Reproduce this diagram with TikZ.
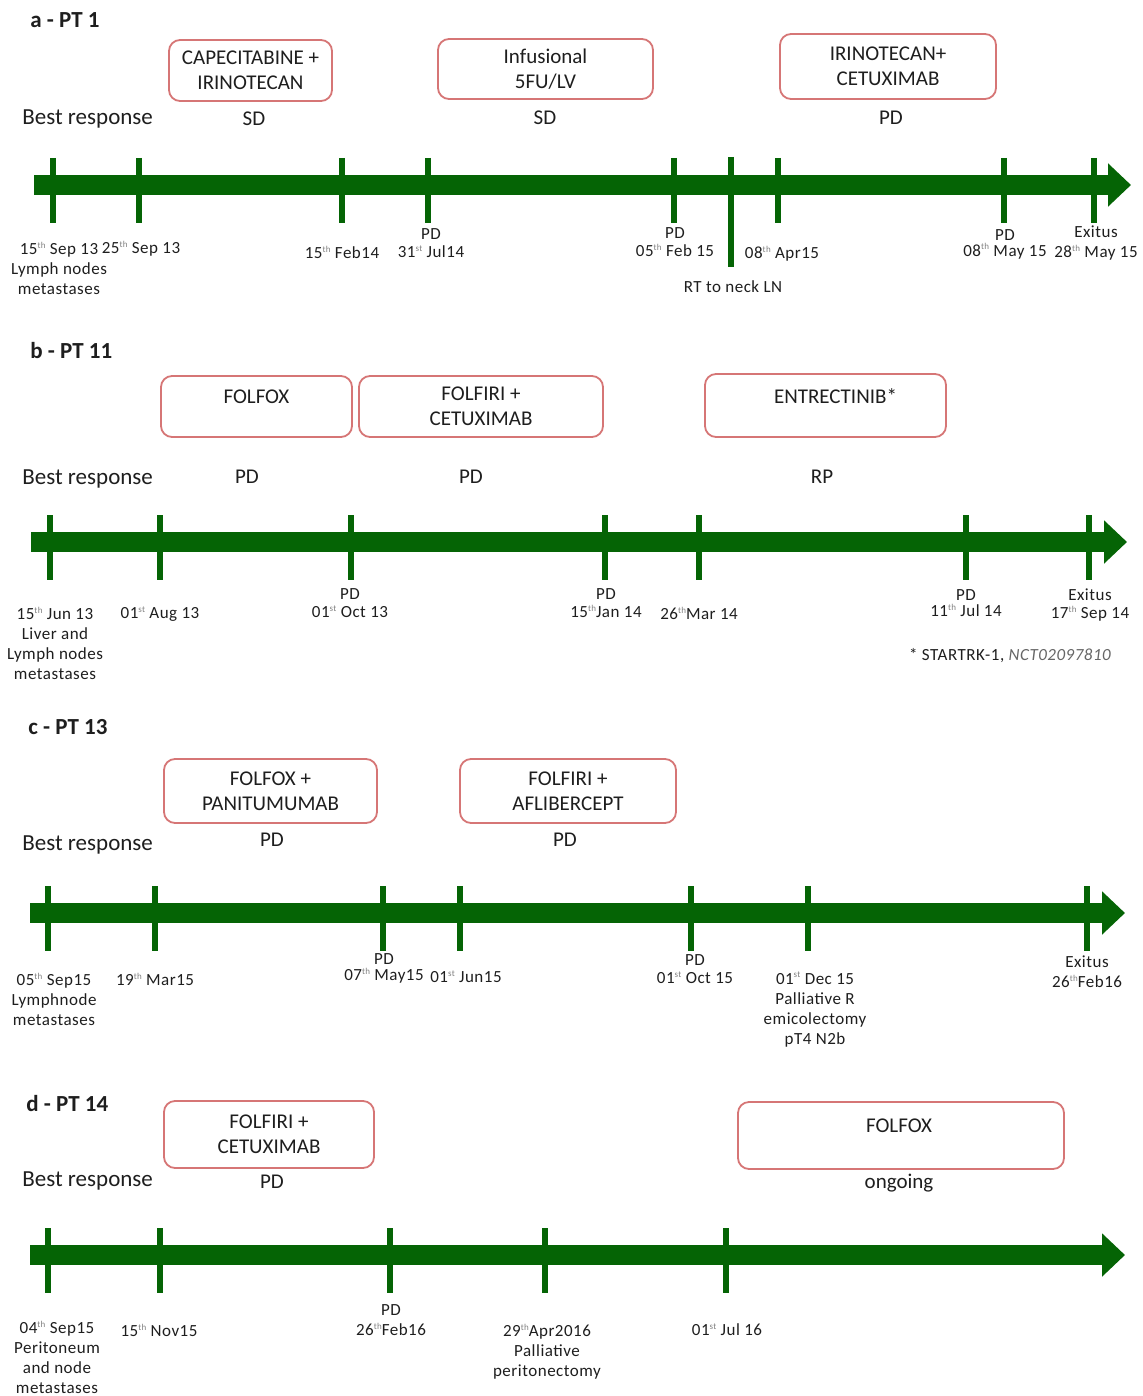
\documentclass[tikz,border=0pt]{standalone}
\usepackage{fontspec}
\usepackage{xcolor}
\setmainfont{Carlito}
\newfontfamily\lblfont[LetterSpace=3]{Carlito}
\usetikzlibrary{arrows.meta}

\definecolor{bargreen}{RGB}{5,100,5}
\definecolor{boxred}{RGB}{214,118,118}
\definecolor{txtdark}{RGB}{30,30,30}
\newcommand{\sups}[1]{\raisebox{0.75ex}{\fontsize{4.5}{5}\selectfont\color{gray}#1}}

\begin{document}
\begin{tikzpicture}[
  x=0.5pt, y=-0.5pt,
  box/.style={draw=boxred, line width=0.9pt, rounded corners=5.5pt,
              inner sep=0pt, align=center, text=txtdark,
              font=\fontsize{10.5}{12.5}\selectfont},
  boxtxt/.style={text=txtdark, font=\fontsize{10.5}{12.5}\selectfont},
  resp/.style={text=txtdark, font=\fontsize{10.5}{12.5}\selectfont},
  title/.style={anchor=west, inner sep=0pt, text=txtdark, font=\bfseries\fontsize{11.5}{13}\selectfont},
  best/.style={anchor=west, inner sep=0pt, text=txtdark, font=\fontsize{11.5}{13}\selectfont},
  lbl/.style={align=center, inner sep=0pt, text=txtdark,
              font=\lblfont\fontsize{8.5}{10}\selectfont},
  bar/.style={draw=bargreen, line width=10pt,
              -{Triangle[length=11.5pt, width=21pt]}},
  tick/.style={draw=bargreen, line width=3.2pt},
]
  \useasboundingbox (0,0) rectangle (1142,1396);

  % ---------------- a - PT 1
  \node[title] (ta) at (30,20) {a - PT 1};
  \node[box, minimum width=81.5pt, minimum height=30.5pt] (a1) at (250.5,70.5) {CAPECITABINE +\\IRINOTECAN};
  \node[box, minimum width=107.5pt, minimum height=30pt]  (a2) at (545.5,69)   {Infusional\\5FU/LV};
  \node[box, minimum width=108pt, minimum height=32.5pt]  (a3) at (888,66.5)   {IRINOTECAN+\\CETUXIMAB};
  \node[best] (ba) at (22,119) {Best response};
  \node[resp] (ra1) at (254,119) {SD};
  \node[resp] (ra2) at (545,118) {SD};
  \node[resp] (ra3) at (891,118) {PD};

  \draw[bar] (34,185) -- (1131,185);
  \foreach \x in {53,139,342,428,674,778,1004,1094}
    \draw[tick] (\x,158) -- (\x,223);
  \draw[tick] (731,157) -- (731,267);

  \node[lbl] (la1) at (59,268)   {15\sups{th} Sep 13\\Lymph nodes\\metastases};
  \node[lbl] (la2) at (141,249)  {25\sups{th} Sep 13};
  \node[lbl] (la3) at (342,252)  {15\sups{th} Feb14};
  \node[lbl] (la4) at (431,243)  {PD\\[-1pt]31\sups{st} Jul14};
  \node[lbl] (la5) at (675,242)  {PD\\[-1pt]05\sups{th} Feb 15};
  \node[lbl] (la6) at (782,254)  {08\sups{th} Apr15};
  \node[lbl] (la7) at (733,287)  {RT to neck LN};
  \node[lbl] (la8) at (1005,244) {PD\\[-2pt]08\sups{th} May 15};
  \node[lbl] (la9) at (1096,243.5) {Exitus\\[0pt]28\sups{th} May 15};

  % ---------------- b - PT 11
  \node[title] (tb) at (30,351) {b - PT 11};
  \node[box, minimum width=95.5pt, minimum height=30.5pt,
        label={[boxtxt, yshift=4.75pt]center:FOLFOX}] (b1) at (256.5,406.5) {};
  \node[box, minimum width=122pt, minimum height=30.5pt] (b2) at (481,406.5) {FOLFIRI +\\CETUXIMAB};
  \node[box, minimum width=120.5pt, minimum height=31.5pt,
        label={[boxtxt, yshift=4.75pt, xshift=5pt]center:ENTRECTINIB*}] (b3) at (825.5,405.5) {};
  \node[best] (bb) at (22,479) {Best response};
  \node[resp] (rb1) at (247,477) {PD};
  \node[resp] (rb2) at (471,477) {PD};
  \node[resp] (rb3) at (822,477) {RP};

  \draw[bar] (31,542) -- (1127,542);
  \foreach \x in {50,160,351,605,699,966,1089}
    \draw[tick] (\x,515) -- (\x,580);

  \node[lbl] (lb1) at (55,643.5)  {15\sups{th} Jun 13\\Liver and\\Lymph nodes\\metastases};
  \node[lbl] (lb2) at (160,614)   {01\sups{st} Aug 13};
  \node[lbl] (lb3) at (350,603.5) {PD\\[-1pt]01\sups{st} Oct 13};
  \node[lbl] (lb4) at (606,603.5) {PD\\[-1pt]15\sups{th}Jan 14};
  \node[lbl] (lb5) at (699,613)   {26\sups{th}Mar 14};
  \node[lbl] (lb6) at (966,603.5) {PD\\[-2pt]11\sups{th} Jul 14};
  \node[lbl] (lb7) at (1090,605.5) {Exitus\\[-1pt]17\sups{th} Sep 14};
  \node[lbl] (nb)  at (1010,656)  {* STARTRK-1, {\itshape\color{gray!80!black}NCT02097810}};

  % ---------------- c - PT 13
  \node[title] (tc) at (28,727) {c - PT 13};
  \node[box, minimum width=106.5pt, minimum height=32pt] (c1) at (270.5,791) {FOLFOX +\\PANITUMUMAB};
  \node[box, minimum width=108pt, minimum height=32pt]   (c2) at (568,791)   {FOLFIRI +\\AFLIBERCEPT};
  \node[best] (bc) at (22,845) {Best response};
  \node[resp] (rc1) at (272,840) {PD};
  \node[resp] (rc2) at (565,840) {PD};

  \draw[bar] (30,913) -- (1125,913);
  \foreach \x in {48,155,383,460,691,808,1087}
    \draw[tick] (\x,886) -- (\x,951);

  \node[lbl] (lc1) at (54,999)    {05\sups{th} Sep15\\Lymphnode\\metastases};
  \node[lbl] (lc2) at (155,979)   {19\sups{th} Mar15};
  \node[lbl] (lc3) at (384,968.5) {PD\\[-2pt]07\sups{th} May15};
  \node[lbl] (lc4) at (466,977)   {01\sups{st} Jun15};
  \node[lbl] (lc5) at (695,969.5) {PD\\[-1pt]01\sups{st} Oct 15};
  \node[lbl] (lc6) at (815,1009.5) {01\sups{st} Dec 15\\Palliative R\\emicolectomy\\pT4 N2b};
  \node[lbl] (lc7) at (1087,971.5) {Exitus\\26\sups{th}Feb16};

  % ---------------- d - PT 14
  \node[title] (td) at (26,1104) {d - PT 14};
  \node[box, minimum width=105pt, minimum height=33.5pt] (d1) at (269,1134.5) {FOLFIRI +\\CETUXIMAB};
  \node[box, minimum width=163pt, minimum height=33.5pt,
        label={[boxtxt, yshift=4.75pt, xshift=-1pt]center:FOLFOX}] (d2) at (901,1135.5) {};
  \node[best] (bd) at (22,1181) {Best response};
  \node[resp] (rd1) at (272,1182) {PD};
  \node[resp] (rd2) at (899,1183) {ongoing};

  \draw[bar] (30,1255) -- (1125,1255);
  \foreach \x in {48,160,390,545,726}
    \draw[tick] (\x,1228) -- (\x,1293);

  \node[lbl] (ld1) at (57,1357)    {04\sups{th} Sep15\\Peritoneum\\and node\\metastases};
  \node[lbl] (ld2) at (159,1330)   {15\sups{th} Nov15};
  \node[lbl] (ld3) at (391,1320.5) {PD\\26\sups{th}Feb16};
  \node[lbl] (ld4) at (547,1352)   {29\sups{th}Apr2016\\Palliative\\peritonectomy};
  \node[lbl] (ld5) at (727,1330)   {01\sups{st} Jul 16};
\end{tikzpicture}
\end{document}
